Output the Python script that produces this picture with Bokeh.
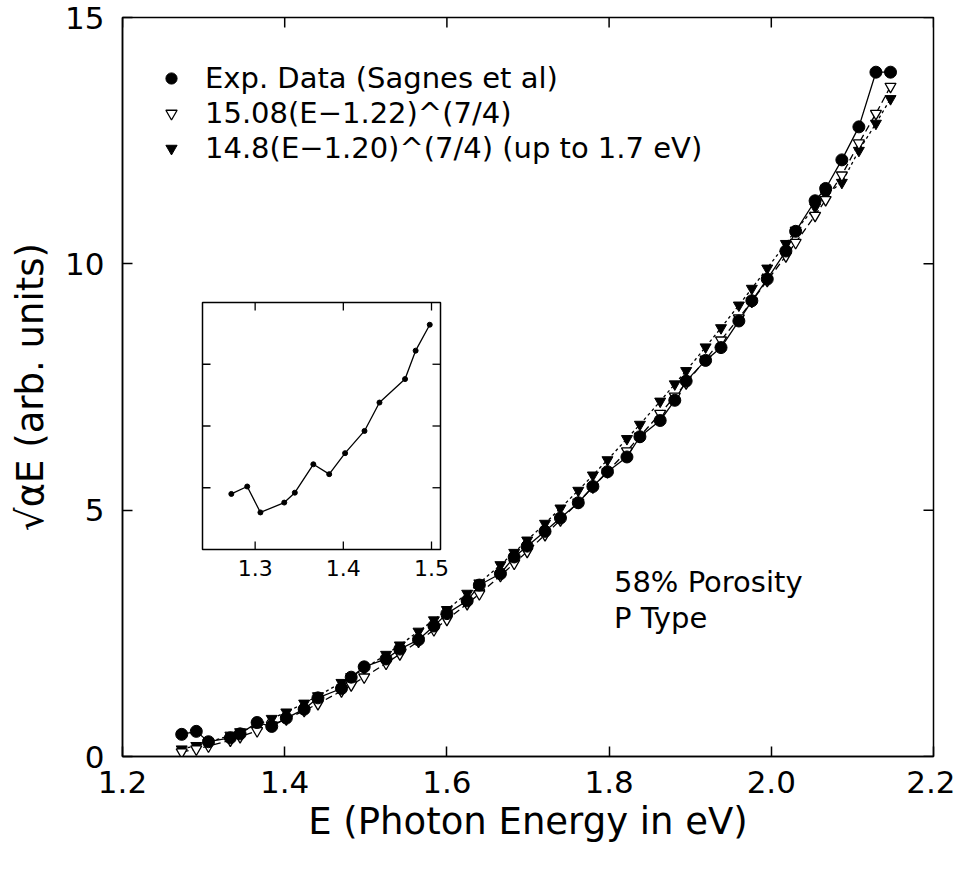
from bokeh.plotting import figure
from bokeh.models import Range1d, FixedTicker, Legend, LegendItem, Label
from bokeh.core.properties import value
from bokeh.embed import file_html
from bokeh.resources import INLINE

# ---------------- data ----------------
energy = [1.273, 1.291, 1.306, 1.333, 1.345, 1.366, 1.384, 1.402, 1.424, 1.441,
          1.470, 1.482, 1.498, 1.525, 1.542, 1.565, 1.584, 1.600, 1.625, 1.640,
          1.666, 1.683, 1.699, 1.721, 1.740, 1.762, 1.780, 1.798, 1.822, 1.838,
          1.863, 1.881, 1.895, 1.919, 1.938, 1.960, 1.976, 1.995, 2.018, 2.030,
          2.054, 2.067, 2.087, 2.108, 2.129, 2.147]
exp_data = [0.45, 0.51, 0.30, 0.38, 0.46, 0.69, 0.61, 0.78, 0.96, 1.19,
            1.38, 1.61, 1.82, 1.98, 2.18, 2.37, 2.65, 2.90, 3.16, 3.48,
            3.71, 4.05, 4.27, 4.57, 4.84, 5.15, 5.48, 5.78, 6.08, 6.49,
            6.82, 7.23, 7.62, 8.04, 8.30, 8.84, 9.25, 9.69, 10.26, 10.66,
            11.28, 11.53, 12.11, 12.78, 13.89, 13.89]
fit_122 = [0.09, 0.15, 0.21, 0.33, 0.40, 0.52, 0.64, 0.76, 0.93, 1.07,
           1.33, 1.45, 1.61, 1.89, 2.08, 2.34, 2.57, 2.78, 3.10, 3.30,
           3.67, 3.92, 4.16, 4.50, 4.80, 5.16, 5.47, 5.78, 6.20, 6.50,
           6.96, 7.31, 7.58, 8.06, 8.45, 8.90, 9.24, 9.66, 10.16, 10.43,
           10.98, 11.30, 11.80, 12.45, 13.05, 13.60]
fit_120 = [0.15, 0.22, 0.29, 0.43, 0.50, 0.64, 0.77, 0.90, 1.08, 1.23,
           1.50, 1.62, 1.78, 2.07, 2.26, 2.54, 2.77, 2.98, 3.31, 3.52,
           3.89, 4.14, 4.39, 4.73, 5.04, 5.40, 5.71, 6.02, 6.45, 6.74,
           7.21, 7.56, 7.83, 8.31, 8.70, 9.16, 9.50, 9.91, 10.41, 10.68,
           11.15, 11.40, 11.65, 12.30, 12.85, 13.35]

inset_energy = [1.273, 1.291, 1.306, 1.333, 1.345, 1.366, 1.384, 1.402,
                1.424, 1.441, 1.470, 1.482, 1.498]
inset_values = [0.45, 0.51, 0.30, 0.38, 0.46, 0.69, 0.61, 0.78,
                0.96, 1.19, 1.38, 1.61, 1.82]

x_ticks = [1.2, 1.4, 1.6, 1.8, 2.0, 2.2]
x_tick_labels = ["1.2", "1.4", "1.6", "1.8", "2.0", "2.2"]
y_ticks = [0, 5, 10, 15]
y_tick_labels = ["0", "5", "10", "15"]
inset_x_ticks = [1.3, 1.4, 1.5]
inset_x_labels = ["1.3", "1.4", "1.5"]
inset_y_ticks = [0.5, 1.0, 1.5]

legend_labels = ["Exp. Data (Sagnes et al)",
                 "15.08(E\u22121.22)^(7/4)",
                 "14.8(E\u22121.20)^(7/4) (up to 1.7 eV)"]
note_lines = ["58% Porosity", "P Type"]

# ---------------- layout ----------------
FONT = "DejaVu Sans"
FW, FH = 811, 739
X0, X1, Y0, Y1 = 1.2, 2.2, 0.0, 15.0

p = figure(frame_width=FW, frame_height=FH, output_backend="svg", toolbar_location=None,
           x_range=Range1d(X0, X1), y_range=Range1d(Y0, Y1),
           min_border_left=122, min_border_right=22, min_border_top=17, min_border_bottom=91,
           x_axis_label="E (Photon Energy in eV)", y_axis_label="\u221a\u03b1E (arb. units)")
p.xgrid.visible = False
p.ygrid.visible = False
p.outline_line_color = "black"
p.outline_line_width = 1.5
p.background_fill_color = "white"
p.border_fill_color = "white"

for ax, ticks, labels in ((p.xaxis[0], x_ticks, x_tick_labels),
                          (p.yaxis[0], y_ticks, y_tick_labels)):
    ax.ticker = FixedTicker(ticks=ticks)
    ax.major_label_overrides = dict(zip(ticks, labels))
    ax.axis_line_color = "black"
    ax.axis_line_width = 1.5
    ax.major_tick_in = 10
    ax.major_tick_out = 0
    ax.major_tick_line_width = 1.5
    ax.major_tick_line_color = "black"
    ax.minor_tick_line_color = None
    ax.major_label_text_font = FONT
    ax.major_label_text_font_size = "31px"
    ax.major_label_text_color = "black"
    ax.axis_label_text_font = FONT
    ax.axis_label_text_font_style = "normal"
    ax.axis_label_text_color = "black"
p.xaxis[0].major_label_standoff = 14
p.xaxis[0].axis_label_standoff = 4
p.xaxis[0].axis_label_text_font_size = "37px"
p.yaxis[0].major_label_standoff = 18
p.yaxis[0].axis_label_standoff = 10
p.yaxis[0].axis_label_text_font_size = "37px"

# inward ticks on the top and right edges of the frame
tick_len = 10
dx_t = tick_len * (X1 - X0) / FW
dy_t = tick_len * (Y1 - Y0) / FH
p.segment(x0=x_ticks, y0=[Y1] * len(x_ticks), x1=x_ticks, y1=[Y1 - dy_t] * len(x_ticks),
          line_color="black", line_width=1.5)
p.segment(x0=[X1] * len(y_ticks), y0=y_ticks, x1=[X1 - dx_t] * len(y_ticks), y1=y_ticks,
          line_color="black", line_width=1.5)

# ---------------- main series ----------------
p.line(energy, fit_120, line_color="black", line_width=1.3, line_dash="3 3")
p.line(energy, fit_122, line_color="black", line_width=1.3, line_dash="7 4")
p.line(energy, exp_data, line_color="black", line_width=1.3)
r_fill = p.scatter(energy, fit_120, marker="inverted_triangle", size=11,
                   fill_color="black", line_color="black")
r_open = p.scatter(energy, fit_122, marker="inverted_triangle", size=11,
                   fill_color="white", line_color="black", line_width=1.3)
r_exp = p.scatter(energy, exp_data, marker="circle", size=12,
                  fill_color="black", line_color="black")

# legend: one entry per row so each row can be placed like the original
row_bottoms = [661, 626, 591]   # px above the frame bottom
for lab, rend, yb in zip(legend_labels, (r_exp, r_open, r_fill), row_bottoms):
    lg = Legend(items=[LegendItem(label=lab, renderers=[rend])],
                location=(35, yb), orientation="vertical", padding=0, spacing=0, margin=0,
                glyph_width=28, glyph_height=28, label_height=28, label_standoff=20,
                label_text_font=FONT, label_text_font_size="29px", label_text_color="black",
                background_fill_alpha=0, border_line_alpha=0)
    p.add_layout(lg)

p.add_layout(Label(x=1.806, y=3.55, text=note_lines[0], text_font=FONT, text_font_size="29px",
                   text_baseline="middle", text_color="black"))
p.add_layout(Label(x=1.806, y=2.82, text=note_lines[1], text_font=FONT, text_font_size="29px",
                   text_baseline="middle", text_color="black"))

# ---------------- inset (drawn on its own ranges) ----------------
ix0, ix1 = 1.2403, 1.5102
iy0, iy1 = 0.0, 2.0
box_l, box_r, box_b, box_t = 80, 318, 207, 454   # inset box in frame pixels
kx = (ix1 - ix0) / (box_r - box_l)
ky = (iy1 - iy0) / (box_t - box_b)
p.extra_x_ranges = {"ix": Range1d(ix0 - box_l * kx, ix0 + (FW - box_l) * kx)}
p.extra_y_ranges = {"iy": Range1d(iy0 - box_b * ky, iy0 + (FH - box_b) * ky)}
ins = dict(x_range_name="ix", y_range_name="iy")

p.quad(left=[ix0], right=[ix1], bottom=[iy0], top=[iy1], fill_color="white",
       line_color="black", line_width=1.5, **ins)
itick = 8
n = len(inset_x_ticks)
p.segment(x0=inset_x_ticks, y0=[iy0] * n, x1=inset_x_ticks, y1=[iy0 + itick * ky] * n,
          line_color="black", line_width=1.3, **ins)
p.segment(x0=inset_x_ticks, y0=[iy1] * n, x1=inset_x_ticks, y1=[iy1 - itick * ky] * n,
          line_color="black", line_width=1.3, **ins)
m = len(inset_y_ticks)
p.segment(x0=[ix0] * m, y0=inset_y_ticks, x1=[ix0 + itick * kx] * m, y1=inset_y_ticks,
          line_color="black", line_width=1.3, **ins)
p.segment(x0=[ix1] * m, y0=inset_y_ticks, x1=[ix1 - itick * kx] * m, y1=inset_y_ticks,
          line_color="black", line_width=1.3, **ins)
p.text(x=inset_x_ticks, y=[iy0] * n, text=inset_x_labels, text_align="center",
       text_baseline="top", y_offset=10, text_font=value(FONT), text_font_size="22px",
       text_color="black", **ins)
p.line(inset_energy, inset_values, line_color="black", line_width=1.3, **ins)
p.scatter(inset_energy, inset_values, marker="circle", size=5, fill_color="black",
          line_color="black", **ins)

open("out.html", "w").write(file_html(p, INLINE))
